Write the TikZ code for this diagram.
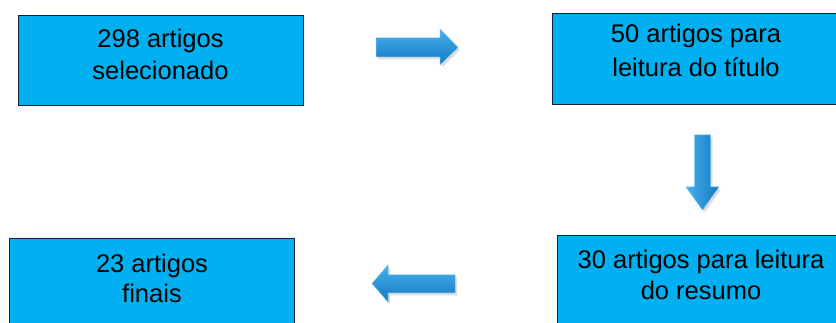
\documentclass[tikz,border=0pt]{standalone}
\usepackage{fontspec}
\setmainfont{Liberation Sans}
\definecolor{boxblue}{RGB}{0,176,240}
\definecolor{boxline}{RGB}{25,32,45}
\definecolor{arrlight}{RGB}{70,178,235}
\definecolor{arrdark}{RGB}{20,120,195}
\begin{document}
\begin{tikzpicture}[x=1pt,y=-1pt,
  box/.style={draw=boxline, line width=1pt, fill=boxblue, minimum width=285pt, minimum height=90pt, inner sep=0pt, anchor=north west},
  txt/.style={align=center, font=\fontsize{25.5}{32}\selectfont, inner sep=0pt, anchor=base},
  arr/.style={top color=arrlight, bottom color=arrdark, draw=arrlight!80!white, line width=0.5pt},
  varr/.style={left color=arrlight, right color=arrdark, draw=arrlight!80!white, line width=0.5pt},
  shad/.style={fill=black, opacity=0.13}]
\useasboundingbox (0,0) rectangle (836,323);
\clip (0,0) rectangle (836,323);
\fill[white] (0,0) rectangle (836,323);
% boxes
\node[box] (b1) at (18,15) {};
\node[box, minimum width=286pt, minimum height=91pt] (b2) at (552,13) {};
\node[box] (b3) at (9,238) {};
\node[box] (b4) at (557,235) {};
% texts (base anchor = baseline of last line)
\node[txt] (t1) at (160.5,80) {298 artigos\\selecionado};
\node[txt, font=\fontsize{25.5}{34}\selectfont] (t2) at (696,77) {50 artigos para\\leitura do título};
\node[txt, font=\fontsize{25.5}{30}\selectfont] (t3) at (152,302) {23 artigos\\finais};
\node[txt] (t4) at (701,300) {30 artigos para leitura\\do resumo};
% arrow shadows
\begin{scope}[shift={(2,2.5)}]
\fill[shad] (376,38) -- (440,38) -- (440,29) -- (458,47.5) -- (440,65) -- (440,57) -- (376,57) -- cycle;
\fill[shad] (694.5,135) -- (710.5,135) -- (710.5,187) -- (719,187) -- (702.5,210) -- (686,187) -- (694.5,187) -- cycle;
\fill[shad] (455,275) -- (388,275) -- (388,265) -- (372,283.5) -- (388,302) -- (388,293) -- (455,293) -- cycle;
\end{scope}
% arrows
\path[arr] (376,38) -- (440,38) -- (440,29) -- (458,47.5) -- (440,65) -- (440,57) -- (376,57) -- cycle;
\path[varr] (694.5,135) -- (710.5,135) -- (710.5,187) -- (719,187) -- (702.5,210) -- (686,187) -- (694.5,187) -- cycle;
\path[arr] (455,275) -- (388,275) -- (388,265) -- (372,283.5) -- (388,302) -- (388,293) -- (455,293) -- cycle;
\end{tikzpicture}
\end{document}
